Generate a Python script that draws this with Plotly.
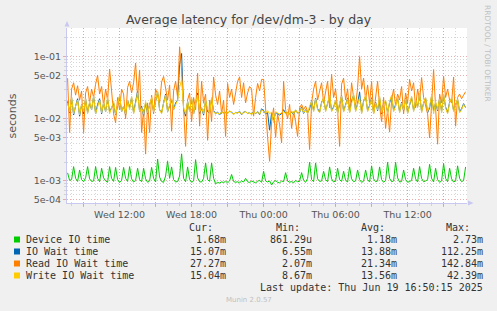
import pandas as pd
import plotly.graph_objects as go

# ---------------- data (milliseconds, 10-minute samples) ----------------
start_time = "2025-06-18 07:40"
n_points = 200

device_io_ms = [
    1.35, 1.02, 1.05, 1.7, 1.1, 0.98, 1.5, 1.05, 0.97, 1.12,
    1.7, 1.08, 0.98, 1.0, 1.7, 1.1, 0.97, 1.6, 1.12, 1.0,
    0.95, 1.7, 1.1, 0.98, 1.65, 1.05, 0.94, 1.02, 1.65, 1.1,
    0.98, 1.7, 1.08, 0.96, 1.02, 1.6, 1.05, 0.97, 1.6, 1.08,
    0.95, 1.0, 1.65, 1.1, 0.96, 2.25, 1.15, 0.98, 0.95, 1.2,
    2.07, 1.1, 1.68, 1.05, 0.96, 0.98, 1.2, 2.73, 1.1, 0.97,
    1.68, 1.05, 0.95, 1.0, 2.2, 1.12, 0.97, 0.96, 1.1, 1.94,
    1.05, 0.98, 1.94, 1.1, 0.9, 0.95, 0.92, 0.97, 0.94, 0.99,
    0.93, 1.0, 1.27, 0.98, 0.95, 0.97, 0.93, 1.0, 0.96, 1.1,
    0.97, 0.94, 1.0, 0.96, 0.93, 0.99, 1.02, 0.95, 1.43, 1.0,
    0.96, 1.0, 0.86, 0.97, 1.02, 0.95, 0.93, 1.0, 0.97, 1.36,
    1.0, 0.95, 0.98, 0.93, 1.02, 0.97, 0.99, 1.36, 1.02, 0.95,
    1.1, 2.0, 1.05, 0.97, 1.95, 1.08, 0.98, 1.0, 1.43, 1.05,
    0.97, 1.68, 1.08, 0.96, 1.0, 1.6, 1.05, 0.98, 1.43, 1.02,
    0.96, 1.68, 1.08, 0.97, 1.0, 1.5, 1.05, 0.95, 0.99, 1.5,
    1.05, 0.96, 1.75, 1.08, 0.97, 1.0, 1.68, 1.05, 0.95, 1.02,
    2.0, 1.1, 0.97, 1.0, 2.0, 1.12, 0.96, 0.98, 1.5, 1.05,
    0.95, 0.98, 1.02, 1.6, 1.08, 0.96, 1.7, 1.1, 0.97, 1.0,
    1.05, 1.85, 1.1, 0.96, 1.6, 1.05, 0.95, 1.0, 1.9, 1.1,
    0.97, 1.6, 1.08, 0.96, 1.0, 1.75, 1.1, 0.97, 1.02, 1.68,
]

io_wait_ms = [
    19, 12.5, 22, 11.5, 16, 21, 11, 17, 12, 21,
    12.5, 18, 14, 23, 12, 17, 21, 12, 18, 13,
    21, 13, 15, 18, 11.5, 17, 23, 13, 16, 11.5,
    20, 15, 22, 12.5, 19, 28, 13, 16, 11, 18,
    12, 17, 21, 13, 19, 27, 14, 12.5, 18, 25,
    13, 16, 20, 14, 18, 20, 75, 112.25, 14, 11,
    19, 13.5, 21, 12, 18, 26, 12, 15, 11.5, 20,
    13, 12.5, 21, 13.5, 12, 12.8, 11.5, 13, 12.4, 12.5,
    12.2, 13.2, 12.8, 11.8, 12.6, 12.4, 13.2, 11.6, 12.8, 13,
    12.2, 12.5, 11.8, 13.2, 12, 13, 11.6, 14.5, 13.4, 12,
    12.5, 6.55, 12.5, 9.5, 12.6, 12.2, 11.5, 12, 14, 12.2,
    12.5, 11.8, 13, 11.6, 13.8, 12.4, 12.6, 15.5, 12.2, 14,
    12.4, 14.5, 19.5, 13.5, 21.5, 14.5, 12.8, 18.5, 21.5, 13.5,
    17.5, 23, 13.5, 15.5, 19.5, 12.4, 17, 23.5, 13.2, 16.5,
    21.5, 12.8, 19.5, 24, 13.5, 17.5, 27, 12.5, 19.5, 23,
    13.5, 16.5, 21.5, 12.4, 18.5, 13.5, 22, 12, 17.5, 19,
    12.5, 18, 23, 13.5, 16.5, 21.5, 12.8, 18.5, 13.5, 21.5,
    12.4, 17.5, 22, 13.5, 19.5, 15.5, 25, 13, 18, 21.5,
    12.5, 15, 23, 13.5, 18, 13.5, 21.5, 13, 24, 15.5,
    12.5, 18.5, 21, 13.5, 16.5, 20.5, 13, 14.5, 17.5, 15.07,
]

read_io_wait_ms = [
    45, 6, 30, 38, 24, 34, 20, 28, 6, 26,
    33, 18, 30, 22, 36, 50, 25, 33, 16, 30,
    20, 63, 28, 12, 8.6, 22, 14, 30, 25, 10,
    32, 40, 26, 38, 79, 22, 61, 6, 14, 2.7,
    18, 6, 24, 12, 30, 25, 18, 39, 48, 30,
    20, 35, 6.3, 28, 40, 22, 142.84, 60, 12, 3.6,
    20, 26, 9, 22, 14, 54, 7.6, 40, 18, 25,
    4.5, 20, 9, 47, 24, 17, 28, 12, 20, 5.2,
    37, 22, 30, 17, 26, 40, 47, 22, 38, 18,
    26, 33, 30, 11, 22, 37, 28, 43, 43, 12,
    5, 2.07, 9, 15, 5, 12, 8, 4.1, 40, 14,
    10, 17, 7, 13, 9, 5.2, 15, 17, 14, 16,
    13, 3.2, 18, 30, 40, 20, 28, 38, 18, 26,
    40, 15, 52, 22, 30, 14, 3.6, 36, 45, 20,
    30, 13, 38, 22, 16, 32, 100, 30, 45, 20,
    35, 18, 40, 12, 25, 40, 16, 9, 22, 7,
    14, 6.1, 20, 30, 16, 25, 20, 33, 12, 26,
    18, 43, 28, 38, 15, 30, 20, 46, 22, 16,
    12, 4.9, 20, 62, 15, 3.9, 25, 18, 48, 22,
    30, 20, 18, 47, 7.6, 22, 25, 21, 24, 27.27,
]

write_io_wait_ms = [
    18, 13, 22, 12, 16, 20, 11.5, 17, 13, 21,
    12, 19, 14, 23, 12, 16, 20, 12.5, 18, 13,
    22, 12, 15, 19, 11.8, 17, 24, 13, 16, 12,
    20, 14, 23, 12, 18, 26, 13, 15, 12, 19,
    12.5, 17, 22, 13, 20, 28, 14, 12, 18, 24,
    13, 16, 21, 14, 17, 20, 32, 42.39, 15, 12,
    19, 13, 22, 12, 18, 24, 13, 15, 12, 20,
    14, 12.5, 22, 13, 12, 12.5, 11.8, 13, 12.2, 12.8,
    12, 13.5, 12.5, 11.6, 12.8, 12.2, 13, 11.8, 12.5, 13.2,
    12, 12.6, 11.5, 13, 12.2, 12.8, 11.8, 14, 13, 12.4,
    13.5, 12, 12.8, 8.67, 13, 12.4, 11.8, 12.6, 13.2, 12,
    12.8, 11.5, 13.4, 12, 14, 12.2, 13, 15, 12.5, 13.8,
    12, 16, 19, 13, 21, 14, 12.5, 18, 22, 13,
    17, 24, 13, 15, 20, 12, 18, 23, 12.8, 16,
    21, 12.5, 19, 25, 13, 17, 22, 12, 19, 24,
    13, 16, 21, 12, 18, 14, 23, 12.5, 17, 20,
    12, 19, 24, 13, 16, 22, 12.5, 18, 14, 21,
    12, 17, 23, 13, 20, 15, 26, 12.5, 18, 22,
    13, 16, 24, 12, 19, 14, 21, 12.5, 25, 15,
    12, 18, 22, 13, 16, 21, 12.5, 14, 17, 15.04,
]

series_names = ["Device IO time", "IO Wait time", "Read IO Wait time", "Write IO Wait time"]
series_colors = ["#00CC00", "#0066B3", "#FF8000", "#FFCC00"]
legend_cur = ["1.68m", "15.07m", "27.27m", "15.04m"]
legend_min = ["861.29u", "6.55m", "2.07m", "8.67m"]
legend_avg = ["1.18m", "13.88m", "21.34m", "13.56m"]
legend_max = ["2.73m", "112.25m", "142.84m", "42.39m"]

x_tick_vals = ["2025-06-18 09:00", "2025-06-18 12:00", "2025-06-18 15:00",
               "2025-06-18 18:00", "2025-06-18 21:00", "2025-06-19 00:00",
               "2025-06-19 03:00", "2025-06-19 06:00", "2025-06-19 09:00",
               "2025-06-19 12:00", "2025-06-19 15:00"]
x_tick_text = ["", "Wed 12:00", "", "Wed 18:00", "", "Thu 00:00",
               "", "Thu 06:00", "", "Thu 12:00", ""]
y_tick_vals = [5e-4, 1e-3, 5e-3, 1e-2, 5e-2, 1e-1]
y_tick_text = ["5e-04", "1e-03", "5e-03", "1e-02", "5e-02", "1e-01"]
y_minor_vals = [6e-4, 7e-4, 8e-4, 9e-4, 2e-3, 3e-3, 4e-3, 6e-3, 7e-3, 8e-3, 9e-3,
                2e-2, 3e-2, 4e-2, 6e-2, 7e-2, 8e-2, 9e-2, 2e-1, 3e-1]

# ---------------- figure ----------------
W, H = 497, 311
L, R, T, B = 67, 467, 28, 203  # plot area in pixels

times = pd.date_range(start_time, periods=n_points, freq="10min")
all_series = [device_io_ms, io_wait_ms, read_io_wait_ms, write_io_wait_ms]

fig = go.Figure()
for name, vals, col in zip(series_names, all_series, series_colors):
    fig.add_trace(go.Scatter(
        x=times, y=[v / 1000.0 for v in vals], mode="lines", name=name,
        line=dict(color=col, width=1), showlegend=False, hoverinfo="skip"))

RED_GRID = "rgba(225,140,140,0.7)"
GRAY_GRID = "rgba(200,200,200,0.75)"
AXIS_COL = "#c8c8f0"
TEXT_COL = "#555555"

fig.update_layout(
    width=W, height=H,
    margin=dict(l=L, r=W - R, t=T, b=H - B, pad=0),
    paper_bgcolor="#F0F0F0", plot_bgcolor="#FFFFFF",
    font=dict(family="DejaVu Sans", size=9.5, color=TEXT_COL),
    showlegend=False,
)

fig.update_xaxes(
    type="date",
    range=["2025-06-18 07:37", "2025-06-19 16:57"],
    tickmode="array", tickvals=x_tick_vals, ticktext=x_tick_text,
    showgrid=True, gridcolor=RED_GRID, griddash="1px,2px", gridwidth=1,
    ticks="outside", ticklen=3, tickcolor=RED_GRID,
    minor=dict(dtick=3600000, tick0="2025-06-18 00:00", showgrid=True,
               gridcolor=GRAY_GRID, griddash="1px,2px", gridwidth=1,
               ticks="outside", ticklen=2, tickcolor=GRAY_GRID),
    showline=True, linecolor=AXIS_COL, linewidth=1,
    zeroline=False, tickfont=dict(size=9.5, color=TEXT_COL),
)

fig.update_yaxes(
    type="log",
    range=[-3.355, -0.54],
    tickmode="array", tickvals=y_tick_vals, ticktext=y_tick_text,
    showgrid=True, gridcolor=RED_GRID, griddash="1px,2px", gridwidth=1,
    ticks="outside", ticklen=3, tickcolor=RED_GRID,
    minor=dict(tickmode="array", tickvals=y_minor_vals, showgrid=True,
               gridcolor=GRAY_GRID, griddash="1px,2px", gridwidth=1,
               ticks="outside", ticklen=2, tickcolor=GRAY_GRID),
    showline=True, linecolor=AXIS_COL, linewidth=1,
    zeroline=False, tickfont=dict(size=9.5, color=TEXT_COL),
)


def px(x):
    return (x - L) / (R - L)


def py(y):
    return (B - y) / (B - T)


# axis arrows (decorations)
fig.add_shape(type="path", xref="paper", yref="paper",
              path=f"M {px(64.5)},{py(26.5)} L {px(67)},{py(21)} L {px(69.5)},{py(26.5)} Z",
              fillcolor=AXIS_COL, line=dict(color=AXIS_COL, width=0))
fig.add_shape(type="path", xref="paper", yref="paper",
              path=f"M {px(468)},{py(200.5)} L {px(473.5)},{py(203)} L {px(468)},{py(205.5)} Z",
              fillcolor=AXIS_COL, line=dict(color=AXIS_COL, width=0))

ann = []
ann.append(dict(text="Average latency for /dev/dm-3 - by day", x=px(248.5), y=py(19.5),
                xanchor="center", yanchor="middle",
                font=dict(family="DejaVu Sans", size=12.5, color="#444444")))
ann.append(dict(text="seconds", x=px(12), y=py(115.5), textangle=-90,
                xanchor="center", yanchor="middle",
                font=dict(family="DejaVu Sans", size=11, color=TEXT_COL)))
ann.append(dict(text="RRDTOOL / TOBI OETIKER", x=px(488), y=py(53), textangle=90,
                xanchor="center", yanchor="middle",
                font=dict(family="DejaVu Sans", size=7.5, color="#c0c0c0")))
ann.append(dict(text="Munin 2.0.57", x=px(248.5), y=py(300),
                xanchor="center", yanchor="middle",
                font=dict(family="DejaVu Sans", size=7, color="#c0c0c0")))

MONO = dict(family="DejaVu Sans Mono", size=10, color="#333333")
col_right = [225.7, 311.7, 396.7, 482.7]
head_right = [213.3, 300.0, 385.0, 470.0]
headers = ["Cur:", "Min:", "Avg:", "Max:"]
for hx, htxt in zip(head_right, headers):
    ann.append(dict(text=htxt, x=px(hx + 2), y=py(227.7), xanchor="right",
                    yanchor="middle", font=MONO))

row_y = [239.5, 251.5, 263.5, 275.5]
for k in range(4):
    y = row_y[k]
    fig.add_shape(type="rect", xref="paper", yref="paper",
                  x0=px(14), x1=px(20), y0=py(y - 3), y1=py(y + 3),
                  fillcolor=series_colors[k], line=dict(width=0))
    ann.append(dict(text=series_names[k], x=px(26.3 - 2), y=py(y), xanchor="left",
                    yanchor="middle", font=MONO))
    for cx, vals in zip(col_right, [legend_cur, legend_min, legend_avg, legend_max]):
        ann.append(dict(text=vals[k], x=px(cx + 2), y=py(y), xanchor="right",
                        yanchor="middle", font=MONO))

ann.append(dict(text="Last update: Thu Jun 19 16:50:15 2025", x=px(482.7 + 2), y=py(287.7),
                xanchor="right", yanchor="middle", font=MONO))

for a in ann:
    a.update(xref="paper", yref="paper", showarrow=False)
fig.update_layout(annotations=ann)

fig.write_html("out.html")
